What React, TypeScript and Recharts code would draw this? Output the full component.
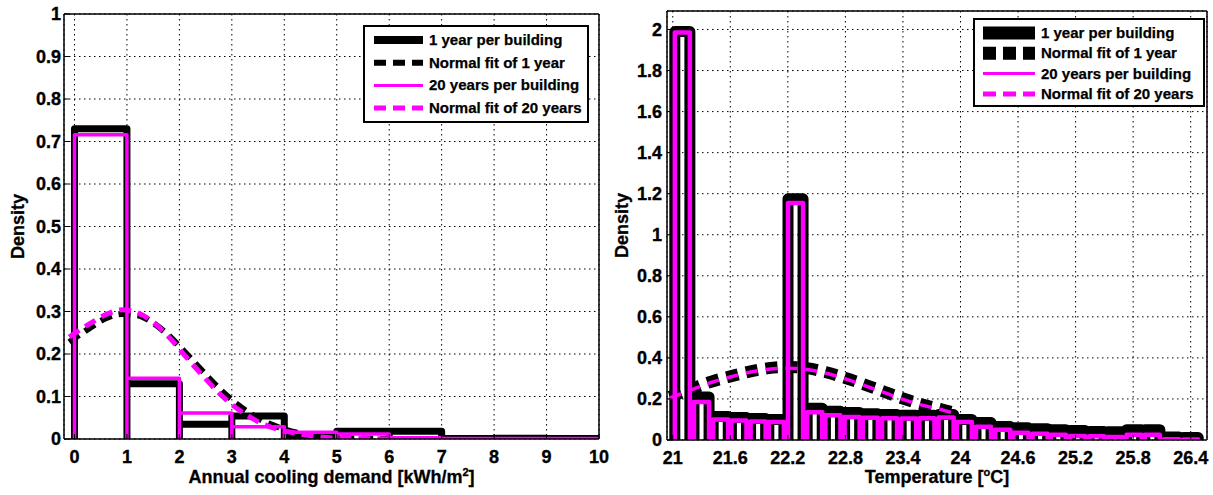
import React from "react";
import { ComposedChart, Line, XAxis, YAxis, CartesianGrid, Legend } from "recharts";

const FONT = '"Liberation Sans", Arial, Helvetica, sans-serif';
const MAGENTA = "#ff00ff";

// left panel: annual cooling demand histogram (bin edges + density per bin)
const coolingEdges = [0, 1, 2, 3, 4, 5, 6, 7, 8, 9, 10];
const cooling1Year = [0.73, 0.13, 0.035, 0.054, 0.006, 0.018, 0.018, 0.001, 0.002, 0.001];
const cooling20Years = [0.716, 0.143, 0.061, 0.029, 0.016, 0.012, 0.003, 0.001, 0.001, 0.001];
// normal fits
const coolingFitX = [-0.1, 0.3, 0.6, 0.9, 1.2, 1.5, 1.8, 2.1, 2.4, 2.7, 3.0, 3.3, 3.6, 3.9, 4.2, 4.6, 5.0, 5.5, 6.0];
const coolingFit1Year = [0.228, 0.262, 0.284, 0.294, 0.291, 0.273, 0.243, 0.205, 0.165, 0.126, 0.092, 0.064, 0.042, 0.027, 0.016, 0.008, 0.003, 0.001, 0];
const coolingFit20Years = [0.24, 0.272, 0.293, 0.304, 0.297, 0.275, 0.24, 0.197, 0.155, 0.115, 0.081, 0.055, 0.035, 0.022, 0.014, 0.006, 0.002, 0.001, 0];
const coolingTicksX = [0, 1, 2, 3, 4, 5, 6, 7, 8, 9, 10];
const coolingTicksY = [0, 0.1, 0.2, 0.3, 0.4, 0.5, 0.6, 0.7, 0.8, 0.9, 1];

// right panel: temperature histogram drawn as bars at bin centres (bar width 0.8 of spacing)
const tempCenters = [
  21.1, 21.3, 21.5, 21.69, 21.89, 22.08, 22.28, 22.48, 22.67, 22.87, 23.06, 23.26, 23.46, 23.65,
  23.85, 24.04, 24.24, 24.44, 24.63, 24.83, 25.02, 25.22, 25.42, 25.61, 25.81, 26.0, 26.2, 26.4,
];
const temp1Year = [
  1.99, 0.21, 0.115, 0.11, 0.105, 0.1, 1.175, 0.155, 0.14, 0.134, 0.128, 0.124, 0.12, 0.12,
  0.124, 0.1, 0.085, 0.066, 0.06, 0.055, 0.05, 0.046, 0.042, 0.04, 0.05, 0.05, 0.015, 0.012,
];
const temp20Years = [
  1.985, 0.185, 0.1, 0.095, 0.09, 0.088, 1.155, 0.135, 0.12, 0.112, 0.108, 0.106, 0.105, 0.106,
  0.11, 0.088, 0.065, 0.05, 0.035, 0.03, 0.025, 0.02, 0.018, 0.015, 0.025, 0.025, 0.004, 0.003,
];
const tempBarWidth = 0.157;
const tempFitX = [20.97, 21.2, 21.4, 21.6, 21.8, 22.0, 22.2, 22.4, 22.6, 22.8, 23.0, 23.2, 23.4, 23.6, 23.8, 23.95];
const tempFit1Year = [0.21, 0.25, 0.284, 0.31, 0.333, 0.35, 0.356, 0.35, 0.33, 0.302, 0.27, 0.236, 0.202, 0.173, 0.15, 0.13];
const tempFit20Years = [0.205, 0.245, 0.28, 0.307, 0.33, 0.345, 0.35, 0.343, 0.325, 0.298, 0.265, 0.232, 0.198, 0.17, 0.148, 0.128];
const tempTicksX = [21, 21.6, 22.2, 22.8, 23.4, 24, 24.6, 25.2, 25.8, 26.4];
const tempTicksY = [0, 0.2, 0.4, 0.6, 0.8, 1, 1.2, 1.4, 1.6, 1.8, 2];

// hist-style outline: up, across, down for every bin (edges shared)
function histOutline(edges: number[], heights: number[]) {
  const pts = [{ x: edges[0], y: 0 }];
  heights.forEach((h, i) => {
    pts.push({ x: edges[i], y: h }, { x: edges[i + 1], y: h }, { x: edges[i + 1], y: 0 });
  });
  return pts;
}
// bar-style outline: separate rectangles around each centre
function barOutline(centers: number[], heights: number[], width: number) {
  const pts: { x: number; y: number }[] = [];
  centers.forEach((c, i) => {
    const l = c - width / 2;
    const r = c + width / 2;
    pts.push({ x: l, y: 0 }, { x: l, y: heights[i] }, { x: r, y: heights[i] }, { x: r, y: 0 });
  });
  return pts;
}
const zipXY = (xs: number[], ys: number[]) => xs.map((x, i) => ({ x, y: ys[i] }));

type Row = { label: string; color: string; width: number; dash?: string };

const BoxLegend = ({ rows, w, h, top, gap, sample }: { rows: Row[]; w: number; h: number; top: number; gap: number; sample: [number, number] }) => (
  <div style={{ width: w, height: h, border: "2px solid #000", background: "#fff", boxSizing: "border-box" }}>
    <svg width={w - 4} height={h - 4} style={{ display: "block" }}>
      {rows.map((r, i) => {
        const y = top + i * gap;
        return (
          <g key={r.label}>
            <line x1={sample[0]} x2={sample[1]} y1={y} y2={y} stroke={r.color} strokeWidth={r.width} strokeDasharray={r.dash} />
            <text x={sample[1] + 6} y={y + 5} fontFamily={FONT} fontWeight="bold" fontSize={15} fill="#000" stroke="#000" strokeWidth={0.25}>
              {r.label}
            </text>
          </g>
        );
      })}
    </svg>
  </div>
);

const tickStyle = { fontSize: 18, fontWeight: "bold", fill: "#000", fontFamily: FONT, stroke: "#000", strokeWidth: 0.35 };
const gridProps = { stroke: "#000", strokeDasharray: "1.5 3.5", strokeWidth: 1 };

const titleProps = { fontFamily: FONT, fontWeight: "bold", fontSize: 18, fill: "#000", stroke: "#000", strokeWidth: 0.3 };

const yTitle = (props: any) => {
  const vb = props.viewBox;
  const x = vb.x + 18;
  const y = vb.y + vb.height / 2;
  return (
    <text x={x} y={y} transform={`rotate(-90 ${x} ${y})`} textAnchor="middle" dy={6} {...titleProps}>
      Density
    </text>
  );
};

const lineBase = { dataKey: "y", dot: false, activeDot: false, isAnimationActive: false } as const;

const LeftChart = () => (
  <ComposedChart width={610} height={495} margin={{ top: 14, right: 11, bottom: 0, left: 0 }}>
    <CartesianGrid {...gridProps} />
    <Line {...lineBase} data={histOutline(coolingEdges, cooling1Year)} type="linear" stroke="#000" strokeWidth={7} strokeLinejoin="round" />
    <Line {...lineBase} data={zipXY(coolingFitX, coolingFit1Year)} type="monotone" stroke="#000" strokeWidth={6} strokeDasharray="12 7" />
    <Line {...lineBase} data={histOutline(coolingEdges, cooling20Years)} type="linear" stroke={MAGENTA} strokeWidth={3.5} strokeLinejoin="round" />
    <Line {...lineBase} data={zipXY(coolingFitX, coolingFit20Years)} type="monotone" stroke={MAGENTA} strokeWidth={5} strokeDasharray="12 7" />
    <XAxis
      dataKey="x"
      type="number"
      domain={[-0.2, 10]}
      ticks={coolingTicksX}
      interval={0}
      allowDataOverflow
      height={56}
      tick={tickStyle}
      tickSize={-5}
      tickMargin={16}
      axisLine={{ stroke: "#000", strokeWidth: 1.5 }}
      tickLine={{ stroke: "#000" }}
      label={{
        content: (p: any) => (
          <text x={p.viewBox.x + p.viewBox.width / 2} y={p.viewBox.y + 44} textAnchor="middle" {...titleProps}>
            <tspan>Annual cooling demand [kWh/m</tspan>
            <tspan dy={-7} fontSize={11}>2</tspan>
            <tspan dy={7}>]</tspan>
          </text>
        ),
      }}
    />
    <XAxis xAxisId="top" orientation="top" mirror type="number" domain={[-0.2, 10]} ticks={coolingTicksX} interval={0} tick={false} tickSize={5} axisLine={{ stroke: "#000", strokeWidth: 1.5 }} tickLine={{ stroke: "#000" }} />
    <YAxis
      type="number"
      domain={[0, 1]}
      ticks={coolingTicksY}
      interval={0}
      allowDataOverflow
      width={64}
      tick={tickStyle}
      tickSize={-5}
      tickMargin={8}
      axisLine={{ stroke: "#000", strokeWidth: 1.5 }}
      tickLine={{ stroke: "#000" }}
      label={{ content: yTitle }}
    />
    <YAxis yAxisId="right" orientation="right" mirror type="number" domain={[0, 1]} ticks={coolingTicksY} interval={0} tick={false} tickSize={5} axisLine={{ stroke: "#000", strokeWidth: 1.5 }} tickLine={{ stroke: "#000" }} />
    <Legend
      layout="vertical"
      align="center"
      verticalAlign="middle"
      wrapperStyle={{ left: 363, top: 25, width: 226, height: 98 }}
      content={() => (
        <BoxLegend
          w={226}
          h={98}
          top={13}
          gap={22.7}
          sample={[9, 58]}
          rows={[
            { label: "1 year per building", color: "#000", width: 8 },
            { label: "Normal fit of 1 year", color: "#000", width: 6, dash: "12 7" },
            { label: "20 years per building", color: MAGENTA, width: 3 },
            { label: "Normal fit of 20 years", color: MAGENTA, width: 5, dash: "12 7" },
          ]}
        />
      )}
    />
  </ComposedChart>
);

const RightChart = () => (
  <ComposedChart width={603} height={495} margin={{ top: 11, right: 6, bottom: 0, left: 0 }}>
    <CartesianGrid {...gridProps} />
    <Line {...lineBase} data={barOutline(tempCenters, temp1Year, tempBarWidth)} type="linear" stroke="#000" strokeWidth={11} strokeLinejoin="round" />
    <Line {...lineBase} data={zipXY(tempFitX, tempFit1Year)} type="monotone" stroke="#000" strokeWidth={12} strokeDasharray="12 8" />
    <Line {...lineBase} data={barOutline(tempCenters, temp20Years, tempBarWidth)} type="linear" stroke={MAGENTA} strokeWidth={4.5} strokeLinejoin="round" />
    <Line {...lineBase} data={zipXY(tempFitX, tempFit20Years)} type="monotone" stroke={MAGENTA} strokeWidth={3.5} strokeDasharray="12 8" />
    <XAxis
      dataKey="x"
      type="number"
      domain={[20.94, 26.57]}
      ticks={tempTicksX}
      interval={0}
      allowDataOverflow
      height={55}
      tick={tickStyle}
      tickSize={-5}
      tickMargin={16}
      axisLine={{ stroke: "#000", strokeWidth: 1.5 }}
      tickLine={{ stroke: "#000" }}
      label={{
        content: (p: any) => (
          <text x={p.viewBox.x + p.viewBox.width / 2} y={p.viewBox.y + 43} textAnchor="middle" {...titleProps}>
            <tspan>Temperature [</tspan>
            <tspan dy={-7} fontSize={11}>o</tspan>
            <tspan dy={7}>C]</tspan>
          </text>
        ),
      }}
    />
    <XAxis xAxisId="top" orientation="top" mirror type="number" domain={[20.94, 26.57]} ticks={tempTicksX} interval={0} tick={false} tickSize={5} axisLine={{ stroke: "#000", strokeWidth: 1.5 }} tickLine={{ stroke: "#000" }} />
    <YAxis
      type="number"
      domain={[0, 2.09]}
      ticks={tempTicksY}
      interval={0}
      allowDataOverflow
      width={57}
      tick={tickStyle}
      tickSize={-5}
      tickMargin={10}
      axisLine={{ stroke: "#000", strokeWidth: 1.5 }}
      tickLine={{ stroke: "#000" }}
      label={{ content: (p: any) => yTitle({ viewBox: { ...p.viewBox, x: p.viewBox.x - 6 } }) }}
    />
    <YAxis yAxisId="right" orientation="right" mirror type="number" domain={[0, 2.09]} ticks={tempTicksY} interval={0} tick={false} tickSize={5} axisLine={{ stroke: "#000", strokeWidth: 1.5 }} tickLine={{ stroke: "#000" }} />
    <Legend
      layout="vertical"
      align="center"
      verticalAlign="middle"
      wrapperStyle={{ left: 363, top: 18, width: 232, height: 89 }}
      content={() => (
        <BoxLegend
          w={232}
          h={89}
          top={13}
          gap={20.3}
          sample={[8, 60]}
          rows={[
            { label: "1 year per building", color: "#000", width: 13 },
            { label: "Normal fit of 1 year", color: "#000", width: 13, dash: "13 7" },
            { label: "20 years per building", color: MAGENTA, width: 3 },
            { label: "Normal fit of 20 years", color: MAGENTA, width: 5, dash: "13 7" },
          ]}
        />
      )}
    />
  </ComposedChart>
);

export default function App() {
  return (
    <div style={{ position: "relative", width: 1213, height: 495, background: "#fff", fontFamily: FONT }}>
      <style>{"body{margin:0}"}</style>
      <div style={{ position: "absolute", left: 0, top: 0 }}>
        <LeftChart />
      </div>
      <div style={{ position: "absolute", left: 610, top: 0 }}>
        <RightChart />
      </div>
    </div>
  );
}
